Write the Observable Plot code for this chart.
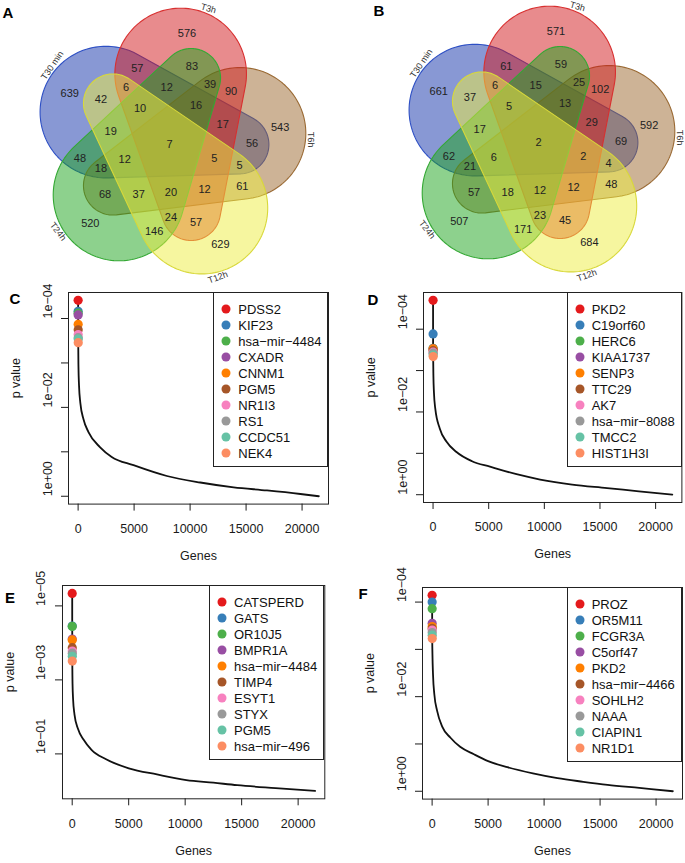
<!DOCTYPE html>
<html><head><meta charset="utf-8">
<script src="https://cdn.jsdelivr.net/npm/d3@7"></script>
<script src="https://cdn.jsdelivr.net/npm/@observablehq/plot@0.6"></script>
<style>
body{margin:0;background:#fff;font-family:"Liberation Sans",Arial,sans-serif;}
#fig{position:relative;width:685px;height:863px;overflow:hidden;background:#fff;}
.panel{position:absolute;}
.letter{position:absolute;font-weight:bold;font-size:15px;line-height:1;transform:translate(-50%,-50%);color:#000;}
.legend{position:absolute;border:1px solid #222;box-sizing:border-box;background:transparent;}
.legend .row{position:absolute;font-size:13px;line-height:1;transform:translateY(-50%);white-space:nowrap;color:#111;}
.legend .dot{position:absolute;width:9px;height:9px;border-radius:50%;transform:translate(-50%,-50%);}
</style></head>
<body><div id="fig"></div>
<script>
// ---------------- Venn data ----------------
const setNames = ["T30 min", "T3h", "T6h", "T12h", "T24h"];
const setFill = ["#1132aa", "#d2181c", "#9b682e", "#eded40", "#1ca41c"];
const setStroke = ["#2d4fc4", "#d83030", "#9a6a34", "#d8d83a", "#34a834"];
const setAround = [2, 1, 0, 4, 3];   // sets counter-clockwise starting at the right
const drawOrder = [0, 2, 1, 4, 3];
// region = indices of the sets it belongs to
const regionSets = ["0","1","2","3","4",
  "12","01","04","34","23",
  "14","03","24","13","02",
  "012","014","034","234","123",
  "124","013","024","134","023",
  "0124","0123","0134","0234","1234","01234"];
const countsA = [639,576,543,629,520, 90,57,48,146,61, 83,42,68,57,56, 17,12,19,37,12, 39,6,18,24,5, 16,5,10,12,20, 7];
const countsB = [661,571,592,684,507, 102,61,62,171,48, 59,37,57,45,69, 29,15,17,18,12, 25,6,21,23,4, 13,2,5,6,12, 2];

// ---------------- p-value panels data ----------------
const dotColors = ["#E41A1C","#377EB8","#4DAF4A","#984EA3","#FF7F00","#A65628","#F781BF","#999999","#66C2A5","#FC8D62"];
const xTicks = [0, 5000, 10000, 15000, 20000];

const genesC = ["PDSS2","KIF23","hsa-mir-4484","CXADR","CNNM1","PGM5","NR1I3","RS1","CCDC51","NEK4"];
const pC = [3.9e-5, 6.9e-5, 7.6e-5, 8.3e-5, 1.35e-4, 1.8e-4, 2.3e-4, 2.7e-4, 2.9e-4, 3.5e-4];
const curveXC = [30, 80, 200, 480, 924, 1967, 3000, 4948, 7928, 10909, 13890, 16870, 19851, 21500];
const curvePC = [1.2e-3, 3.2e-3, 8.0e-3, 1.85e-2, 3.6e-2, 7.9e-2, 0.13, 0.20, 0.35, 0.49, 0.63, 0.74, 0.89, 1.0];
const yTicksC = [1e-4, 1e-3, 1e-2, 1e-1, 1];
const yLabelsC = [1e-4, 1e-2, 1];

const genesD = ["PKD2","C19orf60","HERC6","KIAA1737","SENP3","TTC29","AK7","hsa-mir-8088","TMCC2","HIST1H3I"];
const pD = [2.0e-5, 1.3e-4, 2.9e-4, 2.95e-4, 3.0e-4, 3.3e-4, 3.6e-4, 3.8e-4, 4.2e-4, 4.6e-4];
const curveXD = [30, 80, 200, 601, 1200, 2105, 3500, 5113, 7500, 9624, 12500, 15639, 18500, 21500];
const curvePD = [1.3e-3, 3.4e-3, 8.3e-3, 2.5e-2, 5.2e-2, 9.3e-2, 0.155, 0.21, 0.32, 0.43, 0.57, 0.69, 0.83, 1.0];
const yTicksD = [1e-4, 1e-3, 1e-2, 1e-1, 1];
const yLabelsD = [1e-4, 1e-2, 1];

const genesE = ["CATSPERD","GATS","OR10J5","BMPR1A","hsa-mir-4484","TIMP4","ESYT1","STYX","PGM5","hsa-mir-496"];
const pE = [4.6e-6, 3.5e-5, 3.6e-5, 7.9e-5, 8.3e-5, 1.35e-4, 1.66e-4, 1.9e-4, 2.3e-4, 3.1e-4];
const curveXE = [30, 80, 200, 510, 1000, 1709, 3000, 5007, 7500, 10105, 12500, 14603, 18000, 21500];
const curvePE = [1.3e-3, 3.4e-3, 8.5e-3, 2.1e-2, 4.1e-2, 7.8e-2, 0.14, 0.245, 0.36, 0.51, 0.60, 0.70, 0.84, 1.0];
const yTicksE = [1e-5, 1e-3, 1e-1];
const yLabelsE = [1e-5, 1e-3, 1e-1];

const genesF = ["PROZ","OR5M11","FCGR3A","C5orf47","PKD2","hsa-mir-4466","SOHLH2","NAAA","CIAPIN1","NR1D1"];
const pF = [7.2e-5, 1.0e-4, 1.38e-4, 2.8e-4, 3.3e-4, 3.6e-4, 3.9e-4, 4.4e-4, 5.0e-4, 5.9e-4];
const curveXF = [30, 80, 200, 448, 900, 1642, 2500, 3731, 5000, 6716, 9000, 11194, 13500, 15672, 18500, 21500];
const curvePF = [1.3e-3, 3.4e-3, 9.0e-3, 2.0e-2, 4.3e-2, 7.4e-2, 0.115, 0.165, 0.23, 0.31, 0.42, 0.53, 0.63, 0.73, 0.85, 1.0];
const yTicksF = [1e-4, 1e-3, 1e-2, 1e-1, 1];
const yLabelsF = [1e-4, 1e-2, 1];

// ---------------- helpers ----------------
const fig = document.getElementById("fig");
const FONT = "Liberation Sans, Arial, Helvetica, sans-serif";
const rad = Math.PI / 180;
const dash = s => s.replace(/-/g, "\u2212");

function place(node, left, top) {
  node.classList.add("panel");
  node.style.left = left + "px";
  node.style.top = top + "px";
  fig.appendChild(node);
}
function letter(t, x, y) {
  const d = document.createElement("div");
  d.className = "letter"; d.textContent = t;
  d.style.left = x + "px"; d.style.top = y + "px";
  fig.appendChild(d);
}

// ---------------- Venn geometry: five tapered capsules (big head, thin tail) ----------------
const G = {psi0: 9, rh: 0.255, Rh: 0.235, rt: 0.25, Rt: 0.105, turn: 153, px: 280, lobeR: 0.40, nameR: 0.505, nameShift: -7};
function outline(k) {
  const psi = (G.psi0 + 72 * k) * rad, tau = psi - G.turn * rad;
  const hc = [G.rh * Math.cos(psi), G.rh * Math.sin(psi)];
  const tc = [G.rt * Math.cos(tau), G.rt * Math.sin(tau)];
  const pts = [];
  for (let j = 0; j < 160; j++) {
    const a = 2 * Math.PI * j / 160;
    pts.push([hc[0] + G.Rh * Math.cos(a), hc[1] + G.Rh * Math.sin(a)]);
    pts.push([tc[0] + G.Rt * Math.cos(a), tc[1] + G.Rt * Math.sin(a)]);
  }
  return d3.polygonHull(pts);
}
const shapes = [];
setAround.forEach((s, k) => shapes[s] = outline(k));
const maskOf = key => key.split("").reduce((m, ch) => m | (1 << +ch), 0);

// label anchor of every region: deepest grid point of the region
function regionAnchors() {
  const step = 0.005, lim = 0.55, n = Math.round(2 * lim / step) + 1;
  const code = new Uint8Array(n * n);
  for (let j = 0; j < n; j++) for (let i = 0; i < n; i++) {
    const p = [-lim + i * step, -lim + j * step];
    let c = 0;
    for (let s = 0; s < 5; s++) if (d3.polygonContains(shapes[s], p)) c |= 1 << s;
    code[j * n + i] = c;
  }
  const D = new Float32Array(n * n);
  for (let j = 0; j < n; j++) for (let i = 0; i < n; i++) {
    const idx = j * n + i, c = code[idx];
    const edge = i === 0 || j === 0 || i === n - 1 || j === n - 1 ||
      code[idx - 1] !== c || code[idx + 1] !== c || code[idx - n] !== c || code[idx + n] !== c;
    D[idx] = edge ? 0 : 1e9;
  }
  for (let j = 1; j < n; j++) for (let i = 1; i < n - 1; i++) {
    const idx = j * n + i;
    D[idx] = Math.min(D[idx], D[idx - 1] + 1, D[idx - n] + 1, D[idx - n - 1] + 1.4142, D[idx - n + 1] + 1.4142);
  }
  for (let j = n - 2; j >= 0; j--) for (let i = n - 2; i >= 1; i--) {
    const idx = j * n + i;
    D[idx] = Math.min(D[idx], D[idx + 1] + 1, D[idx + n] + 1, D[idx + n + 1] + 1.4142, D[idx + n - 1] + 1.4142);
  }
  const best = new Map();
  for (let j = 0; j < n; j++) for (let i = 0; i < n; i++) {
    const idx = j * n + i, c = code[idx];
    if (!c) continue;
    const b = best.get(c);
    if (!b || D[idx] > b.d) best.set(c, {d: D[idx], x: -lim + i * step, y: -lim + j * step});
  }
  // single-set lobes: label sits out in the head of the shape
  setAround.forEach((s, k) => {
    const psi = (G.psi0 + 72 * k) * rad;
    best.set(1 << s, {d: 0, x: G.lobeR * Math.cos(psi), y: G.lobeR * Math.sin(psi)});
  });
  return best;
}
const anchors = regionAnchors();

function vennPlot(counts, width, height, cx, cy) {
  const P = G.px;
  const labels = regionSets.map((key, i) => {
    const a = anchors.get(maskOf(key));
    return a ? {x: a.x, y: a.y, n: String(counts[i])} : null;
  }).filter(Boolean);
  const setLabels = setAround.map((s, k) => {
    const deg = G.psi0 + 72 * k + G.nameShift;
    let rot = 90 - deg;
    rot = ((rot + 180) % 360 + 360) % 360 - 180;
    if (Math.abs(rot) > 90) rot = rot > 0 ? rot - 180 : rot + 180;
    return {x: G.nameR * Math.cos(deg * rad), y: G.nameR * Math.sin(deg * rad), name: setNames[s], rot};
  });
  return Plot.plot({
    width, height, margin: 0,
    style: {fontFamily: FONT, background: "transparent", overflow: "visible"},
    x: {domain: [-cx / P, (width - cx) / P], range: [0, width], axis: null},
    y: {domain: [-(height - cy) / P, cy / P], range: [height, 0], axis: null},
    marks: [
      ...drawOrder.map(s => Plot.line(shapes[s], {
        x: d => d[0], y: d => d[1], curve: "linear-closed",
        fill: setFill[s], fillOpacity: 0.5, stroke: setStroke[s], strokeWidth: 1.1
      })),
      Plot.text(labels, {x: "x", y: "y", text: "n", fontSize: 11, fill: "#222"}),
      Plot.text(setLabels, {x: "x", y: "y", text: "name", rotate: "rot", fontSize: 9, fill: "#333"})
    ]
  });
}

// ---------------- p-value panel ----------------
function fmtP(p) {
  const e = Math.round(Math.log10(p));
  return "1e" + (e < 0 ? "\u2212" : "+") + String(Math.abs(e)).padStart(2, "0");
}
function pPanel(cfg) {
  const {genes, p, cx, cp, yTicks, yLabels, box} = cfg;
  const dots = genes.map((g, i) => ({rank: i + 1, p: p[i], color: dotColors[i]}));
  const curve = dots.map(d => ({x: d.rank, p: d.p})).concat(cx.map((x, i) => ({x, p: cp[i]})));
  const N = d3.max(curve, d => d.x);
  const lo = Math.log10(d3.min(curve, d => d.p)), hi = Math.log10(d3.max(curve, d => d.p));
  const padY = 0.04 * (hi - lo), padX = 0.04 * (N - 1);
  const mL = 68, mT = 20, mR = 3, mB = 62;
  const W = box.right - box.left + mL + mR, H = box.bottom - box.top + mT + mB;
  const plot = Plot.plot({
    width: W, height: H, marginLeft: mL, marginTop: mT, marginRight: mR, marginBottom: mB,
    style: {fontFamily: FONT, fontSize: "12.5px", background: "transparent", overflow: "visible", color: "#1a1a1a"},
    x: {domain: [1 - padX, N + padX]},
    y: {type: "log", domain: [Math.pow(10, hi + padY), Math.pow(10, lo - padY)]},
    color: {type: "identity"},
    marks: [
      Plot.frame({stroke: "#222", strokeWidth: 1}),
      Plot.axisX({ticks: xTicks, tickSize: 7, tickPadding: 13, tickFormat: d => String(d), label: null}),
      Plot.axisY({ticks: yTicks, tickSize: 7, tickFormat: () => "", label: null}),
      Plot.text(yLabels, {y: d => d, text: d => fmtP(d), frameAnchor: "left", dx: -21, rotate: -90, fontSize: 12.5}),
      Plot.text(["p value"], {frameAnchor: "left", dx: -53, rotate: -90, fontSize: 12.5}),
      Plot.text(["Genes"], {frameAnchor: "bottom", dy: 56, fontSize: 12.5}),
      Plot.line(curve, {x: "x", y: "p", stroke: "#111", strokeWidth: 1.8, curve: "monotone-x"}),
      Plot.dot(dots, {x: "rank", y: "p", r: 4.6, fill: "color"})
    ]
  });
  place(plot, box.left - mL, box.top - mT);
  const lg = document.createElement("div");
  lg.className = "legend";
  const lw = 115, lh = 175;
  lg.style.left = (box.right - lw) + "px"; lg.style.top = box.top + "px";
  lg.style.width = lw + "px"; lg.style.height = lh + "px";
  genes.forEach((g, i) => {
    const dot = document.createElement("div");
    dot.className = "dot"; dot.style.background = dotColors[i];
    dot.style.left = "12px"; dot.style.top = (16 + 16 * i) + "px";
    lg.appendChild(dot);
    const row = document.createElement("div");
    row.className = "row"; row.textContent = dash(g);
    row.style.left = "24px"; row.style.top = (16 + 16 * i) + "px";
    lg.appendChild(row);
  });
  fig.appendChild(lg);
}

// ---------------- assemble ----------------
place(vennPlot(countsA, 330, 290, 165, 144), 4, 0);
place(vennPlot(countsB, 312, 290, 165, 142), 373, 0);

pPanel({genes: genesC, p: pC, cx: curveXC, cp: curvePC, yTicks: yTicksC, yLabels: yLabelsC,
  box: {left: 68.3, right: 328.3, top: 291.7, bottom: 503.3}});
pPanel({genes: genesD, p: pD, cx: curveXD, cp: curvePD, yTicks: yTicksD, yLabels: yLabelsD,
  box: {left: 423.3, right: 681.7, top: 292.3, bottom: 502.3}});
pPanel({genes: genesE, p: pE, cx: curveXE, cp: curvePE, yTicks: yTicksE, yLabels: yLabelsE,
  box: {left: 61.7, right: 324, top: 585, bottom: 798.3}});
pPanel({genes: genesF, p: pF, cx: curveXF, cp: curvePF, yTicks: yTicksF, yLabels: yLabelsF,
  box: {left: 421.7, right: 681.7, top: 586.7, bottom: 798.3}});

letter("A", 8, 12); letter("B", 379, 10);
letter("C", 15, 298); letter("D", 373, 299);
letter("E", 10, 597); letter("F", 363, 593);
</script>
</body></html>
